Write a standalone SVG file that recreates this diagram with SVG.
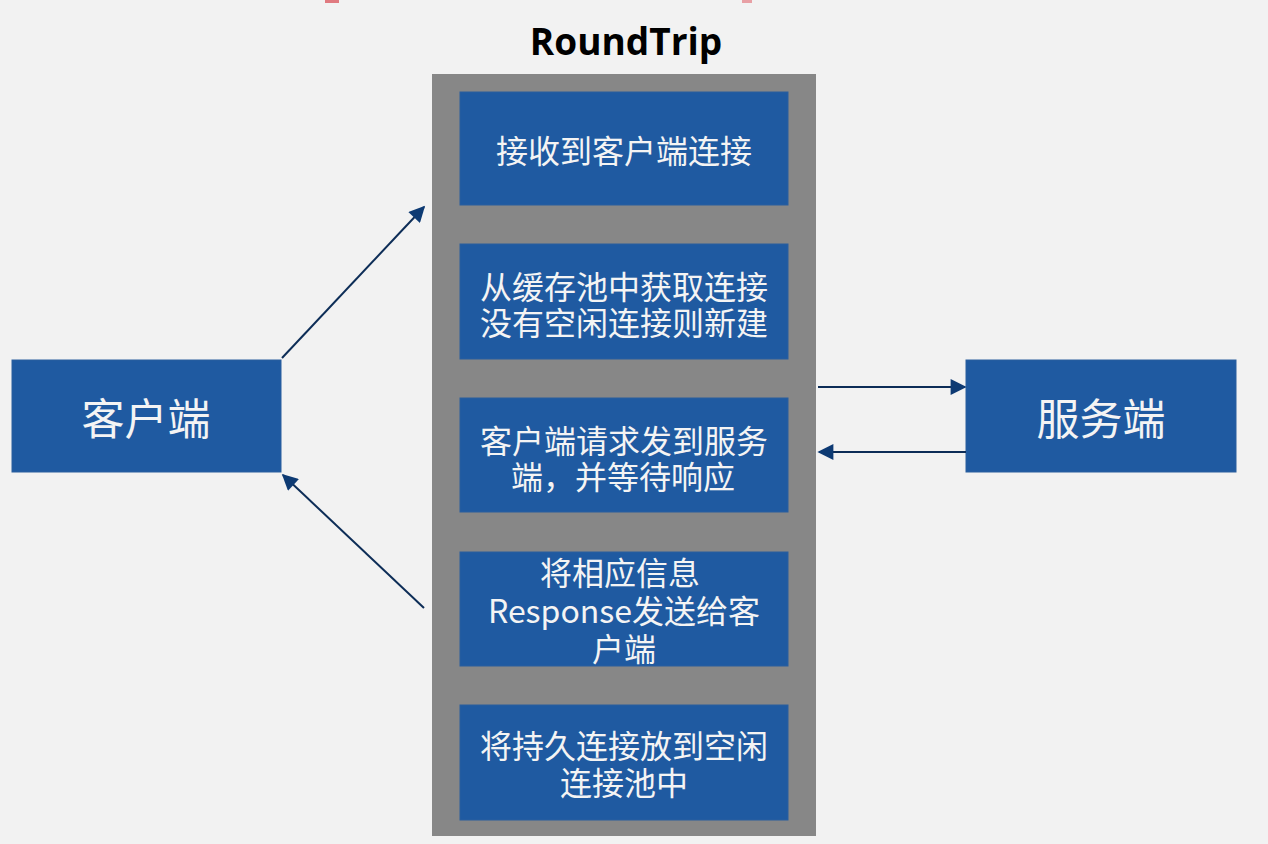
<svg xmlns="http://www.w3.org/2000/svg" width="1268" height="844" viewBox="0 0 1268 844">
<defs>
<style>
.box{fill:#1f5aa1;stroke:#2b5f9e;stroke-width:1}
.t{fill:#f4f4f4;font-family:"Noto Sans CJK SC","Noto Sans",sans-serif;font-size:32px;text-anchor:middle;dominant-baseline:central}
.big{font-size:43px}
.c{stroke:#0d2d57;stroke-width:2;fill:none}
</style>
<marker id="ah" viewBox="0 0 10 10" refX="9" refY="5" markerWidth="18" markerHeight="16" markerUnits="userSpaceOnUse" orient="auto"><path d="M0,0 L10,5 L0,10 z" fill="#0d3a73"/></marker>
</defs>
<rect width="1268" height="844" fill="#f2f2f2"/>
<rect x="325" y="0" width="14" height="3" fill="#e07a80"/>
<rect x="742" y="0" width="10" height="3" fill="#e8a0a5"/>
<text x="626" y="55" font-family="'Open Sans','Noto Sans',sans-serif" font-size="37" font-weight="bold" text-anchor="middle" fill="#000">RoundTrip</text>
<g id="roundtrip">
<rect x="432" y="74" width="384" height="762" fill="#878787"/>
</g>
<g id="step1"><rect class="box" x="460" y="92" width="328" height="113"/><text class="t" x="624" y="149">接收到客户端连接</text></g>
<g id="step2"><rect class="box" x="460" y="244" width="328" height="115"/><text class="t" x="624" y="285">从缓存池中获取连接</text><text class="t" x="624" y="321">没有空闲连接则新建</text></g>
<g id="step3"><rect class="box" x="460" y="398" width="328" height="114"/><text class="t" x="624" y="439">客户端请求发到服务</text><text class="t" x="623" y="475">端，并等待响应</text></g>
<g id="step4"><rect class="box" x="460" y="552" width="328" height="114"/><text class="t" x="620" y="571">将相应信息</text><text class="t" x="624" y="609">Response发送给客</text><text class="t" x="624" y="647">户端</text></g>
<g id="step5"><rect class="box" x="460" y="705" width="328" height="115"/><text class="t" x="624" y="744">将持久连接放到空闲</text><text class="t" x="624" y="781">连接池中</text></g>
<g id="client"><rect class="box" x="12" y="360" width="269" height="112"/><text class="t big" x="146" y="416">客户端</text></g>
<g id="server"><rect class="box" x="966" y="360" width="270" height="112"/><text class="t big" x="1101" y="416">服务端</text></g>
<g id="connectors">
<line class="c" x1="282" y1="358" x2="424" y2="207" marker-end="url(#ah)"/>
<line class="c" x1="424" y1="608" x2="283" y2="475" marker-end="url(#ah)"/>
<line class="c" x1="818" y1="387" x2="965" y2="387" marker-end="url(#ah)"/>
<line class="c" x1="966" y1="452" x2="819" y2="452" marker-end="url(#ah)"/>
</g>
</svg>
